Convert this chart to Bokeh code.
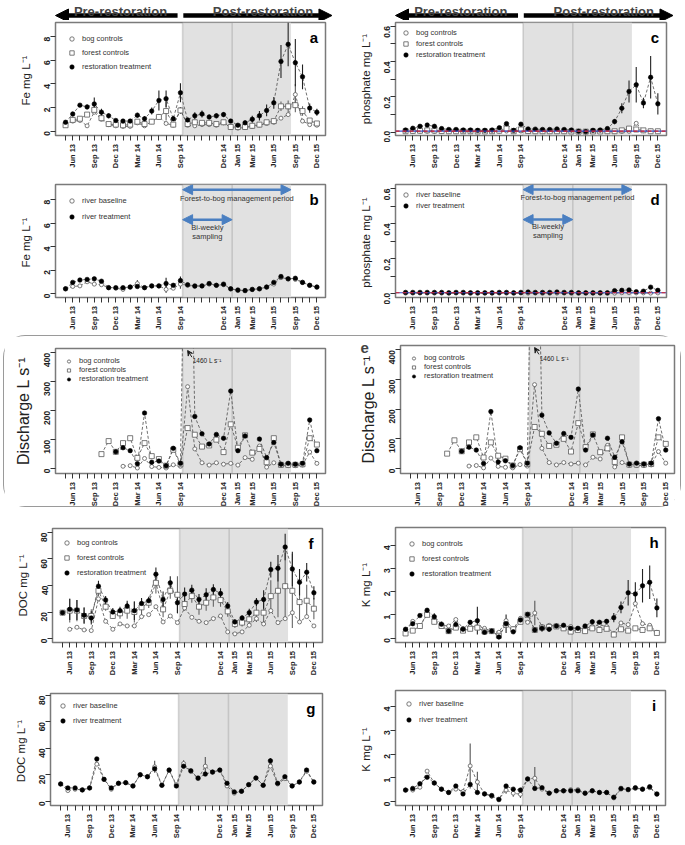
import math
import numpy as np
from bokeh.plotting import figure
from bokeh.models import (Range1d, FixedTicker, Legend, LegendItem, Label, Title,
                          BoxAnnotation, Span, Arrow, NormalHead, VeeHead,
                          PrintfTickFormatter, Spacer)
from bokeh.core.properties import value
from bokeh.layouts import column, row
from bokeh.embed import file_html
from bokeh.resources import INLINE

nan = float("nan")
FONT = "Liberation Sans"

# ---------------- time axis (sample index) ----------------
idx = list(range(36))
tick_idx = [1, 4, 7, 10, 13, 16, 22, 24, 26, 29, 32, 35]
tick_labels = ["Jun 13", "Sep 13", "Dec 13", "Mar 14", "Jun 14", "Sep 14",
               "Dec 14", "Jan 15", "Mar 15", "Jun 15", "Sep 15", "Dec 15"]
restoration_start = 16.3   # start of forest-to-bog management
biweekly_end = 23.2        # end of bi-weekly sampling
management_end = 31.4      # end of management period
pre_arrow_tail = 15.6
post_arrow_tip = 37.1
X_RANGE = (-1.4, 36.2)
det_limit = 0.006

# ---------------- a: Fe (catchments) ----------------
fe_bog = [0.55,0.85,0.9,0.45,1.6,1.0,0.55,0.45,0.4,0.4,0.7,0.45,0.8,1.25,0.65,0.5,1.8,0.5,0.45,0.55,0.55,0.5,0.7,0.3,0.25,0.3,0.4,0.5,0.65,0.75,1.1,1.4,3.1,0.85,0.55,0.5]
fe_bog_err = [0,0,0,0,0,0,0,0,0,0,0,0,0,0,0,0,0,0,0,0,0,0,0,0,0,0,0,0,0,0,0,0,0.9,0,0,0]
fe_forest = [0.5,0.95,1.05,1.4,1.8,1.1,0.6,0.55,0.5,0.55,0.8,0.6,0.8,1.2,1.7,0.55,1.75,0.6,0.75,0.7,0.7,0.6,0.75,0.35,0.35,0.35,0.45,0.55,0.75,0.85,2.1,2.1,2.2,1.7,0.9,0.65]
fe_forest_err = [0.1,0.2,0.1,0.2,0.3,0.2,0.1,0.1,0.1,0.1,0.1,0.1,0.2,0.2,0.8,0.1,0.3,0.1,0.1,0.1,0.1,0.1,0.1,0.1,0.1,0.1,0.1,0.1,0.1,0.2,0.4,0.5,0.6,0.4,0.2,0.1]
fe_rest = [0.75,1.45,2.2,2.05,2.3,1.6,1.3,0.9,0.85,0.85,1.35,1.05,1.7,2.6,2.75,1.05,3.25,0.95,1.3,1.45,1.2,1.3,1.4,0.85,0.5,0.7,1.0,1.3,1.75,2.4,5.9,7.35,5.8,4.6,1.95,1.6]
fe_rest_err = [0.1,0.2,0.1,0.2,0.55,0.3,0.2,0.1,0.1,0.1,0.2,0.2,0.3,0.85,0.7,0.2,0.8,0.1,0.3,0.3,0.2,0.2,0.2,0.1,0.1,0.2,0.3,0.4,0.5,0.5,1.4,1.85,2.0,1.05,0.4,0.3]

# ---------------- b: Fe (river) ----------------
fe_river_base = [0.4,0.6,0.65,1.0,0.8,0.75,0.5,0.45,0.35,0.55,0.85,0.5,0.65,0.65,0.35,0.45,0.8,0.7,0.6,0.65,0.8,0.7,0.75,0.4,0.25,0.25,0.35,0.4,0.55,0.8,1.35,1.25,1.2,0.95,0.7,0.55]
fe_river_base_err = [0,0,0,0,0,0,0,0,0,0,0.3,0,0,0,0.3,0,0.4,0,0,0,0,0,0,0,0,0,0,0,0,0,0,0,0,0,0,0]
fe_river_treat = [0.4,0.95,1.15,1.2,1.25,1.05,0.5,0.5,0.5,0.55,0.6,0.5,0.65,0.65,0.85,0.7,1.1,0.75,0.65,0.65,0.85,0.7,0.8,0.4,0.3,0.25,0.35,0.4,0.55,0.95,1.45,1.25,1.3,0.95,0.7,0.55]
fe_river_treat_err = [0,0.1,0.1,0.1,0.15,0.1,0,0,0,0,0,0,0,0,0.5,0,0.35,0,0,0,0,0,0,0,0,0,0,0,0,0.1,0.15,0,0.1,0,0,0]

# ---------------- c: phosphate (catchments) ----------------
ph_bog = [0.004,0.004,0.005,0.005,0.004,0.004,0.003,0.003,0.003,0.003,0.003,0.003,0.003,0.005,0.006,0.003,0.006,0.004,0.003,0.003,0.003,0.003,0.003,0.003,0.002,0.002,0.003,0.003,0.003,0.003,0.004,0.005,0.05,0.008,0.006,0.005]
ph_forest = [0.005,0.007,0.008,0.01,0.009,0.006,0.005,0.005,0.005,0.005,0.004,0.004,0.005,0.008,0.02,0.005,0.015,0.006,0.005,0.005,0.005,0.005,0.005,0.004,0.003,0.003,0.004,0.004,0.005,0.005,0.01,0.02,0.015,0.01,0.005,0.005]
ph_forest_err = [0,0,0,0,0,0,0,0,0,0,0,0,0,0,0.01,0,0,0,0,0,0,0,0,0,0,0,0,0,0,0,0,0,0,0,0,0]
ph_rest = [0.012,0.022,0.033,0.04,0.033,0.02,0.015,0.015,0.012,0.012,0.01,0.01,0.012,0.025,0.048,0.01,0.045,0.018,0.017,0.015,0.015,0.018,0.015,0.012,0.005,0.003,0.01,0.012,0.02,0.06,0.135,0.23,0.268,0.165,0.31,0.16]
ph_rest_err = [0,0,0.005,0.005,0.005,0,0,0,0,0,0,0,0,0.005,0.01,0,0.01,0,0,0,0,0,0,0,0,0,0,0,0.005,0.015,0.028,0.062,0.1,0.03,0.12,0.06]

# ---------------- d: phosphate (river) ----------------
ph_river_base = [0.004,0.004,0.004,0.004,0.004,0.004,0.003,0.004,0.004,0.003,0.003,0.003,0.003,0.004,0.004,0.003,0.004,0.004,0.004,0.003,0.003,0.004,0.004,0.003,0.003,0.003,0.003,0.003,0.003,0.004,0.006,0.006,0.005,0.005,0.004,0.005]
ph_river_treat = [0.008,0.008,0.008,0.008,0.008,0.008,0.006,0.008,0.008,0.006,0.006,0.006,0.006,0.008,0.008,0.006,0.008,0.01,0.008,0.008,0.008,0.01,0.008,0.008,0.006,0.006,0.006,0.006,0.006,0.018,0.02,0.022,0.012,0.015,0.038,0.02]

# ---------------- discharge ----------------
q_bog = [nan,nan,nan,nan,nan,nan,nan,nan,8,10,2,35,7,4,2,13,8,283,68,20,12,20,15,18,12,38,32,78,5,20,10,10,10,12,57,18]
q_forest = [nan,nan,nan,nan,nan,50,95,58,88,105,37,88,43,33,10,65,15,140,117,76,80,100,57,153,72,115,55,68,22,105,13,13,13,15,105,83]
q_rest = [nan,nan,nan,nan,nan,nan,nan,58,72,62,17,192,22,26,10,70,18,1460,180,120,85,118,105,268,62,113,nan,102,38,90,15,18,15,18,168,62]
q_peak_label = "1460 L s\u207b\u00b9"

# ---------------- f: DOC (catchments) ----------------
doc_bog = [nan,7,8.5,6.5,6,30,13,7,11,9.5,9.5,16.5,18,24,12.5,17,12,23,16,13,12,15,17,5,3.5,5,10,15,11,21,12,15,19.5,12.5,16.5,9.5]
doc_forest = [19.5,21,21,17,17,36,24,17,19,21,20,23.5,27,42,22,36,33,26,32,24,27,31,29,20.5,11,12,14.5,19.5,19.5,32,36,39.5,36,27.5,28.5,22.5]
doc_forest_err = [0,9,8,6,5,4,3,2,4,6,8,6,4,8,6,6,14,5,5,6,6,7,5,4,3,3,4,7,9,12,20,25,28,15,12,8]
doc_rest = [19.5,22,21.5,17.5,15.5,39.5,29,20,21,24.5,21,26.5,28.5,48.5,29.5,42,27,33.5,36.5,29.5,33,37,34,24.5,12.5,15.5,19.5,27.5,29.5,52,53,69,52.5,42.5,50,34.5]
doc_rest_err = [0,8,7.5,6,5,4,3,3,3,4,7,4,3,5,6,5,8,5,4,4,5,4,4,3,2,2,3,3,7,6,10,10,13,10,7,5]

# ---------------- g: DOC (river) ----------------
doc_river_base = [13,8,9,8.5,10,28,16.5,9,13.5,14,11.5,20,18.5,26,12,23.5,12.5,28.5,22.5,17,26.5,22,23.5,11.5,6,7.5,12.5,17.5,12,26.5,13,17,11.5,14.5,22.5,14.5]
doc_river_base_err = [0,0,0,0,0,0,0,0,0,0,0,0,0,4.5,0,0,0,2.5,0,0,7,0,0,0,0,0,0,0,0,0,0,0,0,0,0,0]
doc_river_treat = [13,10,10,8.5,10,32,16.5,10,13.5,14,11.5,20,18.5,24.5,12,23.5,11.5,26.5,23,17.5,20.5,22,23.5,13.5,7,7.5,12.5,17.5,12,30.5,13.5,18.5,11.5,14.5,23.5,14.5]
doc_river_treat_err = [0,0,0,0,0,1,0,0,0,0,0,0,0,0,0,0,0,0,0,0,0,0,0,0,0,0,0,0,0,2,0,0,0,0,0,0]

# ---------------- h: K (catchments) ----------------
k_bog = [0.35,0.72,0.52,1.05,0.8,0.55,0.52,0.8,0.42,0.5,0.48,0.42,0.28,0.25,0.75,0.4,0.85,0.68,1.08,0.5,0.55,0.52,0.5,0.5,0.4,0.42,0.5,0.58,0.5,0.2,0.65,0.58,1.48,0.62,0.55,0.25]
k_bog_err = [0,0,0,0,0,0,0,0,0,0,0,0,0,0,0,0,0,0,0.53,0,0,0,0,0,0,0,0,0,0,0,0,0,0,0,0,0]
k_forest = [0.2,0.32,0.52,1.0,0.7,0.52,0.3,0.45,0.32,0.4,0.45,0.28,0.3,0.1,0.58,0.38,0.7,1.0,0.35,0.45,0.48,0.5,0.42,0.28,0.35,0.3,0.42,0.35,0.4,0.15,0.38,0.32,0.42,0.35,0.42,0.22]
k_forest_err = [0.05,0.1,0.05,0.1,0.1,0.05,0.05,0.1,0.05,0.1,0.1,0.05,0.05,0.05,0.1,0.05,0.1,0.1,0.05,0.1,0.05,0.05,0.05,0.05,0.05,0.05,0.05,0.05,0.05,0.05,0.1,0.1,0.1,0.1,0.1,0.05]
k_rest = [0.38,0.62,0.97,1.2,0.92,0.6,0.3,0.58,0.38,0.68,0.75,0.25,0.3,0.05,0.62,0.27,0.78,1.02,0.35,0.42,0.38,0.52,0.55,0.42,0.42,0.52,0.7,0.68,0.72,0.88,1.32,1.95,1.9,2.25,2.4,1.3]
k_rest_err = [0.05,0.1,0.05,0.1,0.15,0.1,0.05,0.1,0.05,0.1,0.6,0.05,0.05,0.1,0.4,0.05,0.15,0.1,0.05,0.15,0.1,0.05,0.05,0.05,0.05,0.05,0.1,0.05,0.1,0.2,0.25,0.55,0.5,0.72,0.72,0.4]

# ---------------- i: K (river) ----------------
k_river_base = [0.48,0.48,0.6,1.28,0.78,0.52,0.38,0.52,0.42,1.5,0.82,0.32,0.22,0.1,0.48,0.35,0.3,0.95,0.98,0.52,0.35,0.45,0.45,0.5,0.5,0.35,0.45,0.38,0.38,0.15,0.52,0.5,0.55,0.52,0.58,0.3]
k_river_base_err = [0,0,0,0,0,0,0,0,0,0.95,0.43,0,0.1,0,0.15,0.15,0.15,0,0.47,0,0,0,0,0,0,0,0,0,0,0,0,0,0,0,0,0]
k_river_treat = [0.48,0.55,0.75,1.02,0.78,0.52,0.38,0.65,0.32,0.72,0.38,0.32,0.25,0.08,0.65,0.52,0.48,0.95,0.55,0.58,0.35,0.45,0.45,0.45,0.45,0.35,0.45,0.38,0.38,0.18,0.55,0.5,0.58,0.52,0.62,0.32]

# ---------------- styling ----------------
GRAY_FILL = "#e1e1e1"
BOX_LINE = "#858585"
FRAME = "#7a7a7a"
BLUE = "#4a7fc1"
DASH_COL = "#4d4d4d"

BOG = dict(marker="circle", size=4, fill_color="white", line_color="#5a5a5a", line_width=0.8)
FOREST = dict(marker="square", size=5, fill_color="white", line_color="#5a5a5a", line_width=0.8)
REST = dict(marker="circle", size=4.5, fill_color="black", line_color="black", line_width=0.6)


def tick_strip(w, bl, br, x_range, sh):
    """Month labels below a panel, placed at the x tick positions."""
    s = figure(width=w, height=sh, x_range=x_range, y_range=Range1d(0, sh),
               min_border_left=bl, min_border_right=br, min_border_top=0,
               min_border_bottom=0, output_backend="svg", toolbar_location=None,
               x_axis_location=None, y_axis_location=None)
    s.outline_line_color = None
    s.grid.visible = False
    s.text(x=tick_idx, y=np.full(len(tick_idx), sh - 1.5), text=tick_labels,
           angle=math.pi / 2, text_align="right", text_baseline="middle",
           text_font=value(FONT), text_font_style="bold", text_font_size="7.5px",
           text_color="#222222")
    return s


def make_panel(w, h, yr, yticks, yminor, ylabel, letter, series, borders,
               leg_margin, leg_pitch, strip_h, ylabel_size="11.5px", yfmt=None):
    bl, bt, br = borders
    xr = Range1d(*X_RANGE)
    p = figure(width=w, height=h, x_range=xr, y_range=Range1d(*yr),
               output_backend="svg", toolbar_location=None,
               min_border_left=bl, min_border_top=bt, min_border_right=br,
               min_border_bottom=7)
    p.grid.visible = False
    p.outline_line_color = FRAME
    p.outline_line_width = 1.5
    p.background_fill_color = "white"
    p.border_fill_color = "white"
    p.add_layout(BoxAnnotation(left=restoration_start, right=management_end,
                               fill_color=GRAY_FILL, fill_alpha=1.0, line_alpha=0,
                               level="underlay"))
    p.add_layout(BoxAnnotation(left=restoration_start, right=biweekly_end,
                               fill_alpha=0, line_color=BOX_LINE, line_width=1.6,
                               level="underlay"))

    xa = p.xaxis[0]
    xa.ticker = FixedTicker(ticks=[], minor_ticks=idx)
    xa.minor_tick_out = 5
    xa.minor_tick_in = 0
    xa.minor_tick_line_color = "#333333"
    xa.axis_line_color = None
    xa.major_label_standoff = 0

    ya = p.yaxis[0]
    ya.ticker = FixedTicker(ticks=yticks, minor_ticks=yminor)
    ya.major_label_orientation = math.pi / 2
    ya.major_tick_out = 5
    ya.major_tick_in = 0
    ya.minor_tick_out = 5
    ya.minor_tick_in = 0
    ya.major_tick_line_color = "#333333"
    ya.minor_tick_line_color = "#333333"
    ya.axis_line_color = None
    ya.major_label_text_font = FONT
    ya.major_label_text_font_style = "bold"
    ya.major_label_text_font_size = "8.5px"
    ya.major_label_text_color = "#222222"
    ya.major_label_standoff = 3
    ya.axis_label = ylabel
    ya.axis_label_text_font = FONT
    ya.axis_label_text_font_style = "normal"
    ya.axis_label_text_font_size = ylabel_size
    ya.axis_label_text_color = "#222222"
    ya.axis_label_standoff = 7
    if yfmt:
        ya.formatter = PrintfTickFormatter(format=yfmt)

    xs = np.array(idx, dtype=float)
    for s in series:
        vals = np.array(s["y"], dtype=float)
        if s.get("err") is not None:
            err = np.array(s["err"], dtype=float)
            m = err > 0
            p.segment(x0=xs[m], y0=(vals - err)[m], x1=xs[m], y1=(vals + err)[m],
                      line_color=s.get("ecolor", "#333333"), line_width=1.1)
        p.line(xs, vals, line_dash="3 2", line_color=DASH_COL, line_width=0.8)
    items = []
    for s in series:
        vals = np.array(s["y"], dtype=float)
        r = p.scatter(xs, vals, **s["style"])
        items.append(LegendItem(label=s["label"], renderers=[r]))

    gh = min(leg_pitch, 11)
    leg = Legend(items=items, location="top_left", border_line_alpha=0,
                 background_fill_alpha=0, label_text_font=FONT,
                 label_text_font_size="7.5px", label_text_color="#333333",
                 glyph_width=11, glyph_height=gh, label_height=gh,
                 spacing=max(0, leg_pitch - gh), padding=2, margin=leg_margin,
                 label_standoff=5)
    p.add_layout(leg)

    if letter:
        p.add_layout(Label(x=X_RANGE[1] - 1.6, y=yr[1] - 0.13 * (yr[1] - yr[0]),
                           text=letter, text_font=FONT, text_font_style="bold",
                           text_font_size="15px", text_align="center",
                           text_baseline="middle", text_color="black"))
    strip = tick_strip(w, bl, br, xr, strip_h)
    return p, column(p, strip)


def add_period_arrows(p, y_mgmt, y_text, y_bw, y_bw1, y_bw2):
    for x0, x1, yv in [(restoration_start, management_end, y_mgmt),
                       (restoration_start, biweekly_end, y_bw)]:
        p.add_layout(Arrow(x_start=x0, x_end=x1, y_start=yv, y_end=yv,
                           line_color=BLUE, line_width=2.5,
                           start=NormalHead(size=10, fill_color=BLUE, line_color=BLUE),
                           end=NormalHead(size=10, fill_color=BLUE, line_color=BLUE)))
    mid_m = (restoration_start + management_end) / 2
    mid_b = (restoration_start + biweekly_end) / 2
    for x, y, t in [(mid_m, y_text, "Forest-to-bog management period"),
                    (mid_b, y_bw1, "Bi-weekly"), (mid_b, y_bw2, "sampling")]:
        p.add_layout(Label(x=x, y=y, text=t, text_font=FONT, text_font_size="7.5px",
                           text_color="#333333", text_align="center",
                           text_baseline="middle"))


def add_detection(p):
    p.add_layout(Span(location=det_limit, dimension="width", line_color="#3050d0",
                      line_width=1.2))
    p.add_layout(Span(location=det_limit, dimension="width", line_color="#e02020",
                      line_width=1.2, line_dash="4 3"))


HEADER_H = 20


def header(w, bl, br):
    fw = w - bl - br
    ppi = fw / (X_RANGE[1] - X_RANGE[0])
    xr = Range1d(X_RANGE[0] - bl / ppi, X_RANGE[1] + br / ppi)
    p = figure(width=w, height=HEADER_H, x_range=xr, y_range=Range1d(0, 1), min_border=0,
               output_backend="svg", toolbar_location=None,
               x_axis_location=None, y_axis_location=None)
    p.outline_line_color = None
    p.grid.visible = False
    p.add_layout(Arrow(x_start=pre_arrow_tail, x_end=X_RANGE[0], y_start=0.25, y_end=0.25,
                       line_width=4.5, line_color="black",
                       end=NormalHead(size=13, fill_color="black", line_color="black")))
    p.add_layout(Arrow(x_start=restoration_start + 0.1, x_end=post_arrow_tip,
                       y_start=0.25, y_end=0.25, line_width=4.5, line_color="black",
                       end=NormalHead(size=13, fill_color="black", line_color="black")))
    for x, t in [((X_RANGE[0] + restoration_start) / 2 + 0.2, "Pre-restoration"),
                 ((restoration_start + post_arrow_tip) / 2 + 0.8, "Post-restoration")]:
        p.add_layout(Label(x=x, y=0.45, text=t, text_font=FONT, text_font_style="bold",
                           text_font_size="13px", text_align="center",
                           text_baseline="alphabetic"))
    return p


LW, RW = 340, 345


def cat_series(bog, bog_err, forest, forest_err, rest, rest_err):
    return [dict(y=bog, err=bog_err, style=BOG, label="bog controls", ecolor="#555555"),
            dict(y=forest, err=forest_err, style=FOREST, label="forest controls", ecolor="#666666"),
            dict(y=rest, err=rest_err, style=REST, label="restoration treatment", ecolor="#222222")]


def river_series(base, base_err, treat, treat_err):
    return [dict(y=base, err=base_err, style=BOG, label="river baseline", ecolor="#555555"),
            dict(y=treat, err=treat_err, style=REST, label="river treatment", ecolor="#222222")]


# ---- row 1 ----
pa, ca = make_panel(LW, 122, (-0.37, 9.2), [0, 2, 4, 6, 8], [], "Fe  mg L\u207b\u00b9", "a",
                    cat_series(fe_bog, fe_bog_err, fe_forest, fe_forest_err, fe_rest, fe_rest_err),
                    (55, 2, 15), 9, 14, 28)
pc, cc = make_panel(RW, 122, (-0.019, 0.62), [0, 0.2, 0.4, 0.6], [0.1, 0.3, 0.5],
                    "phosphate mg L\u207b\u00b9", "c",
                    cat_series(ph_bog, None, ph_forest, ph_forest_err, ph_rest, ph_rest_err),
                    (55, 2, 19), 3, 11, 28, yfmt="%.1f")
add_detection(pc)

# ---- row 2 ----
pb, cb = make_panel(LW, 134, (-0.34, 9.3), [0, 2, 4, 6, 8], [], "Fe  mg L\u207b\u00b9", "b",
                    river_series(fe_river_base, fe_river_base_err, fe_river_treat, fe_river_treat_err),
                    (55, 14, 15), 9, 16, 26)
add_period_arrows(pb, 8.86, 8.1, 6.3, 5.6, 4.86)
pd_, cd = make_panel(RW, 134, (-0.021, 0.623), [0, 0.2, 0.4, 0.6], [0.1, 0.3, 0.5],
                     "phosphate  mg L\u207b\u00b9", "d",
                     river_series(ph_river_base, None, ph_river_treat, None),
                     (55, 14, 19), 3, 11, 26, yfmt="%.1f")
add_period_arrows(pd_, 0.594, 0.547, 0.423, 0.381, 0.331)
add_detection(pd_)

# ---- row 3: discharge ----
q_series = [dict(y=q_bog, err=None, style=BOG, label="bog controls"),
            dict(y=q_forest, err=None, style=FOREST, label="forest controls"),
            dict(y=q_rest, err=None, style=REST, label="restoration treatment")]
pq1, cq1 = make_panel(336, 144, (-17, 415), [0, 100, 200, 300, 400], [],
                      "Discharge L s\u207b\u00b9", None, q_series, (51, 12, 15), 6, 8, 26,
                      ylabel_size="16px")
pq2, cq2 = make_panel(340, 144, (-17, 415), [0, 100, 200, 300, 400], [],
                      "Discharge L s\u207b\u00b9", None, q_series, (60, 9, 6), 6, 8, 26,
                      ylabel_size="16px")
for pq in (pq1, pq2):
    pq.add_layout(Label(x=17.7, y=372, text=q_peak_label, text_font=FONT,
                        text_font_size="6.5px", text_align="left", text_baseline="middle",
                        text_color="#222222"))
    pq.add_layout(Arrow(x_start=17.6, y_start=385, x_end=17.0, y_end=408,
                        line_width=1, line_color="#222222",
                        end=VeeHead(size=5, line_width=1, line_color="#222222")))
pq2.add_layout(Title(text="e", align="left", offset=-40, standoff=-14,
                     text_font=FONT, text_font_style="bold", text_font_size="15px"),
               "above")

# ---- row 4 ----
pf, cf = make_panel(LW, 140, (-3, 83), [0, 20, 40, 60, 80], [], "DOC mg L\u207b\u00b9", "f",
                    cat_series(doc_bog, None, doc_forest, doc_forest_err, doc_rest, doc_rest_err),
                    (52, 19, 18), 7, 15, 30)
ph_, ch = make_panel(RW, 140, (-0.19, 4.76), [0, 1, 2, 3, 4], [], "K mg L\u207b\u00b9", "h",
                     cat_series(k_bog, k_bog_err, k_forest, k_forest_err, k_rest, k_rest_err),
                     (55, 18, 20), 9, 15, 30)

# ---- row 5 ----
pg, cg = make_panel(LW, 133, (-3.3, 81.5), [0, 20, 40, 60, 80], [], "DOC  mg L\u207b\u00b9", "g",
                    river_series(doc_river_base, doc_river_base_err, doc_river_treat, doc_river_treat_err),
                    (50, 14, 18), 5, 15, 30)
pi_, ci = make_panel(RW, 133, (-0.17, 4.68), [0, 1, 2, 3, 4], [], "K  mg L\u207b\u00b9", "i",
                     river_series(k_river_base, k_river_base_err, k_river_treat, None),
                     (55, 11, 20), 6, 16, 30)

hl = header(LW, 55, 15)
hr = header(RW, 55, 19)

q_box = row(cq1, cq2, styles={"border": "1.5px solid #9a9a9a", "border-radius": "22px"})
q_row = column(Spacer(height=5), row(Spacer(width=3), q_box), Spacer(height=2))

layout = column(row(hl, hr), row(ca, cc), row(cb, cd), q_row, row(cf, ch), row(cg, ci))

with open("out.html", "w") as f:
    f.write(file_html(layout, INLINE, "Restoration time series"))
